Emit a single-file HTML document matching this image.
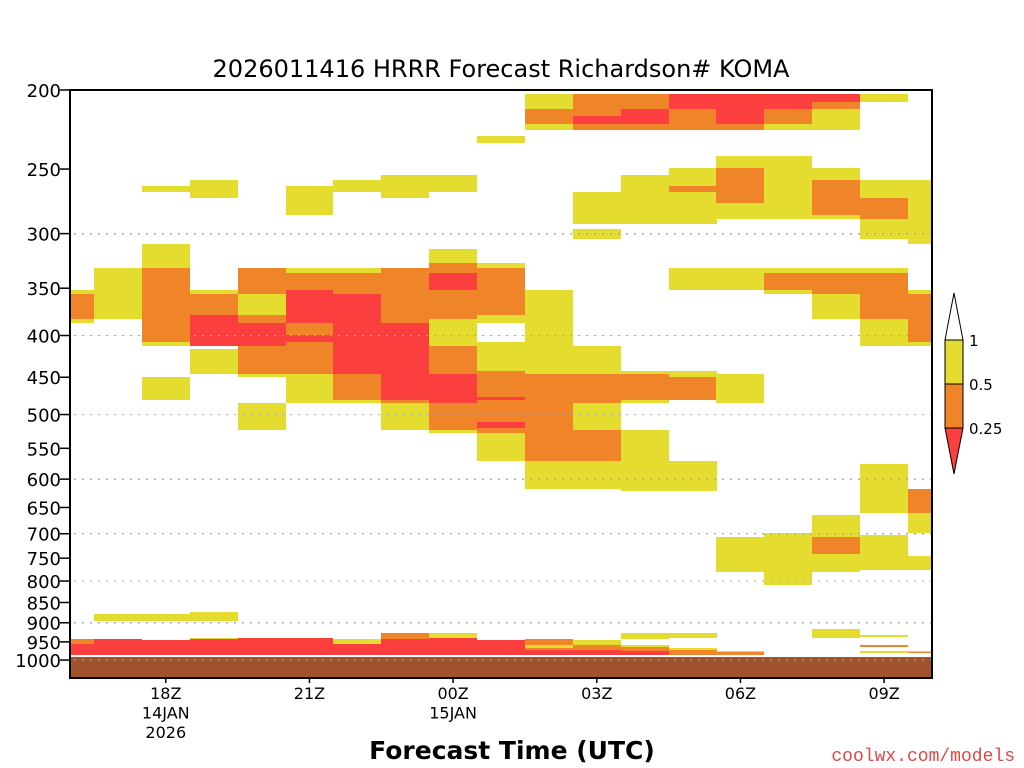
<!DOCTYPE html>
<html><head><meta charset="utf-8"><style>
body{margin:0;background:#fff;width:1024px;height:768px;overflow:hidden}
svg{display:block}
text{font-family:"DejaVu Sans","Liberation Sans",sans-serif}
</style></head><body>
<svg id="c" width="1024" height="768" viewBox="0 0 1024 768">
<text x="501" y="77" font-size="24" text-anchor="middle">2026011416 HRRR Forecast Richardson# KOMA</text>
<text x="512" y="759" font-size="25" font-weight="600" text-anchor="middle">Forecast Time (UTC)</text>
<text x="1015" y="761" font-size="18" fill="#e04848" text-anchor="end" style="font-family:'Liberation Mono',monospace">coolwx.com/models</text>
</svg>
<script>
// data
const yTicks=[200,250,300,350,400,450,500,550,600,650,700,750,800,850,900,950,1000];
const gridP=[300,400,500,600,700,800,900,1000];
const xTickHours=[2,5,8,11,14,17];
const xTickLabels=[["18Z","14JAN","2026"],["21Z"],["00Z","15JAN"],["03Z"],["06Z"],["09Z"]];
const surfaceP=991;
const legendLevels=["1","0.5","0.25"];
// cells: [forecastHour, topPressure, bottomPressure, Ri]
const cellHour=[], cellTop=[], cellBot=[], cellRi=[];
const Y=0.7,O=0.4,R=0.15;
const cells=[
[0,352,356,Y],[0,356,382,O],[0,382,386,Y],[0,942,956,O],[0,956,986,R],
[1,331,382,Y],[1,878,896,Y],[1,942,986,R],
[2,262,267,Y],[2,309,331,Y],[2,331,407,O],[2,407,412,Y],[2,450,480,Y],[2,878,896,Y],[2,945,986,R],
[3,258,271,Y],[3,352,356,Y],[3,356,377,O],[3,377,412,R],[3,416,446,Y],[3,873,896,Y],[3,940,942,Y],[3,942,986,R],
[4,331,356,O],[4,356,377,Y],[4,377,386,O],[4,386,412,R],[4,412,446,O],[4,446,450,Y],[4,484,522,Y],[4,940,986,R],
[5,262,285,Y],[5,331,335,Y],[5,335,352,O],[5,352,386,R],[5,386,399,O],[5,399,407,R],[5,407,446,O],[5,446,484,Y],[5,940,986,R],
[6,258,267,Y],[6,331,335,Y],[6,335,356,O],[6,356,446,R],[6,446,480,O],[6,480,484,Y],[6,942,956,Y],[6,956,986,R],
[7,254,271,Y],[7,331,386,O],[7,386,480,R],[7,480,484,O],[7,484,522,Y],[7,927,942,O],[7,942,986,R],
[8,254,267,Y],[8,313,326,Y],[8,326,335,O],[8,335,352,R],[8,352,382,O],[8,382,412,Y],[8,412,446,O],[8,446,484,R],[8,484,522,O],[8,522,527,Y],[8,927,940,Y],[8,940,986,R],
[9,228,232,Y],[9,326,331,Y],[9,331,377,O],[9,377,386,Y],[9,407,442,Y],[9,442,476,O],[9,476,480,R],[9,480,511,O],[9,511,519,R],[9,519,527,O],[9,527,570,Y],[9,945,986,R],
[10,202,211,Y],[10,211,220,O],[10,220,224,Y],[10,352,446,Y],[10,446,570,O],[10,570,617,Y],[10,942,958,O],[10,958,966,Y],[10,966,972,O],[10,972,986,R],
[11,202,215,O],[11,215,220,R],[11,220,224,O],[11,267,292,Y],[11,296,305,Y],[11,412,446,Y],[11,446,484,O],[11,484,522,Y],[11,522,570,O],[11,570,617,Y],[11,945,958,Y],[11,958,972,O],[11,972,986,R],
[12,202,211,O],[12,211,220,R],[12,220,224,O],[12,254,292,Y],[12,442,446,Y],[12,446,480,O],[12,480,484,Y],[12,522,621,Y],[12,927,942,Y],[12,958,964,Y],[12,964,975,O],[12,975,986,R],
[13,202,211,R],[13,211,224,O],[13,249,262,Y],[13,262,267,O],[13,267,292,Y],[13,331,352,Y],[13,442,450,Y],[13,450,480,O],[13,570,621,Y],[13,927,940,Y],[13,966,972,Y],[13,972,986,O],
[14,202,220,R],[14,220,224,O],[14,241,249,Y],[14,249,275,O],[14,275,288,Y],[14,331,352,Y],[14,446,484,Y],[14,707,780,Y],[14,975,978,Y],[14,978,986,O],
[15,202,211,R],[15,211,220,O],[15,220,224,Y],[15,241,288,Y],[15,331,335,Y],[15,335,352,O],[15,352,356,Y],[15,699,809,Y],
[16,202,207,R],[16,207,211,O],[16,211,224,Y],[16,249,258,Y],[16,258,285,O],[16,285,288,Y],[16,331,335,Y],[16,335,356,O],[16,356,382,Y],[16,664,707,Y],[16,707,741,O],[16,741,780,Y],[16,916,940,Y],
[17,202,207,Y],[17,258,271,Y],[17,271,288,O],[17,288,305,Y],[17,331,335,Y],[17,335,382,O],[17,382,412,Y],[17,575,660,Y],[17,703,776,Y],[17,932,937,Y],[17,958,964,O],[17,975,980,Y],
[18,258,309,Y],[18,352,356,Y],[18,356,407,O],[18,407,412,Y],[18,617,660,O],[18,660,699,Y],[18,746,776,Y],[18,975,978,Y],[18,978,980,O]
];
cells.forEach(c=>{cellHour.push(c[0]);cellTop.push(c[1]);cellBot.push(c[2]);cellRi.push(c[3]);});

const NS="http://www.w3.org/2000/svg";
const svg=document.getElementById('c');
const L=70,Rt=932,T=90,B=678,hourW=(Rt-L)/18;
const pScale=354.2;
function yOf(p){return T+pScale*Math.log(p/200);}
function xOf(h){return L+hourW*h;}
function col(ri){return ri<0.25?"#fb3e3e":ri<0.5?"#ef8428":ri<1?"#e5dc30":"none";}
function mk(tag,attrs,parent){const e=document.createElementNS(NS,tag);for(const k in attrs)e.setAttribute(k,attrs[k]);(parent||svg).appendChild(e);return e;}

const defs=mk('defs',{});
const cp=mk('clipPath',{id:'pc'},defs);
mk('rect',{x:L,y:T,width:Rt-L,height:B-T},cp);
const g=mk('g',{'clip-path':'url(#pc)','shape-rendering':'crispEdges'});


for(let i=0;i<cellHour.length;i++){
  const y1=Math.round(yOf(cellTop[i])),y2=Math.round(yOf(cellBot[i]));
  const x1=Math.round(xOf(cellHour[i])-hourW/2),x2=Math.round(xOf(cellHour[i])+hourW/2);
  const r=mk('rect',{x:x1,y:y1,width:x2-x1,height:Math.max(1,y2-y1),fill:col(cellRi[i])},g);
  
  
}
const gs=Math.round(yOf(surfaceP));
mk('rect',{x:L,y:gs-2,width:Rt-L,height:2,fill:'#fff'},g);
const gr=mk('rect',{x:L,y:gs,width:Rt-L,height:B-gs,fill:'#a0522d'},g);


gridP.forEach(p=>{
  const l=mk('line',{x1:L+4,x2:Rt,y1:yOf(p),y2:yOf(p),stroke:'#aaa','stroke-width':1.3,'stroke-dasharray':'2,6'},g);
  
  
});
const fr=mk('rect',{x:L,y:T,width:Rt-L,height:B-T,fill:'none',stroke:'#000','stroke-width':2});


yTicks.forEach(p=>{
  const y=yOf(p);
  mk('line',{x1:L-10,x2:L,y1:y,y2:y,stroke:'#000','stroke-width':1.5});
  const t=mk('text',{x:61,y:y+7,'font-size':18,'text-anchor':'end'});
  t.textContent=p;
  
  
});
xTickHours.forEach((h,i)=>{
  const x=xOf(h);
  mk('line',{x1:x,x2:x,y1:B,y2:B+5,stroke:'#000','stroke-width':1.5});
  xTickLabels[i].forEach((s,j)=>{
    const t=mk('text',{x:x,y:699+j*19.5,'font-size':16,'text-anchor':'middle'});
    t.textContent=s;
    
    
  });
});
// legend
const lg=mk('g',{});


mk('polygon',{points:'945,340 963,340 954,293',fill:'#fff',stroke:'#000','stroke-width':1},lg);
mk('rect',{x:945,y:340,width:18,height:44,fill:'#e5dc30',stroke:'#000','stroke-width':1},lg);
mk('rect',{x:945,y:384,width:18,height:44,fill:'#ef8428',stroke:'#000','stroke-width':1},lg);
mk('polygon',{points:'945,428 963,428 954,474',fill:'#fb3e3e',stroke:'#000','stroke-width':1},lg);
[340,384,428].forEach((y,i)=>{
  const t=mk('text',{x:969,y:y+6,'font-size':15},lg);
  t.textContent=legendLevels[i];
  
  
});
</script>
</body></html>
